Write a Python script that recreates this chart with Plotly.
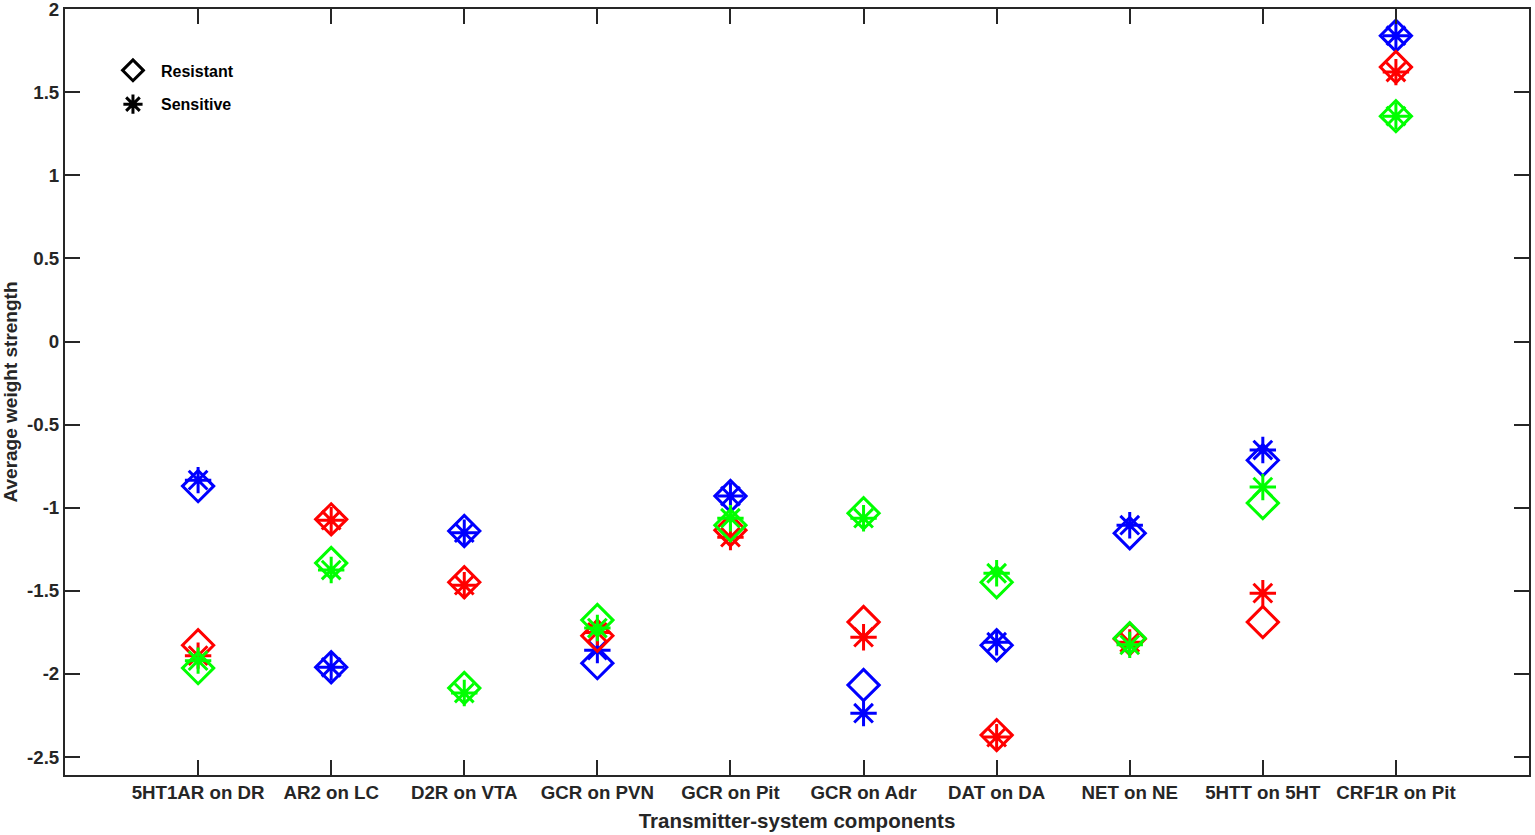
import plotly.graph_objects as go

# categories along the x axis
categories = ["5HT1AR on DR", "AR2 on LC", "D2R on VTA", "GCR on PVN", "GCR on Pit",
              "GCR on Adr", "DAT on DA", "NET on NE", "5HTT on 5HT", "CRF1R on Pit"]

# average weight strength, resistant (diamond) and sensitive (asterisk)
blue_res  = [-0.87, -1.96, -1.14, -1.935, -0.93, -2.067, -1.827, -1.153, -0.714, 1.84]
blue_sen  = [-0.834, -1.96, -1.15, -1.857, -0.93, -2.236, -1.809, -1.105, -0.653, 1.84]
red_res   = [-1.827, -1.07, -1.448, -1.77, -1.135, -1.688, -2.368, -1.79, -1.688, 1.651]
red_sen   = [-1.89, -1.075, -1.466, -1.75, -1.177, -1.779, -2.38, -1.81, -1.514, 1.621]
green_res = [-1.965, -1.333, -2.085, -1.676, -1.105, -1.033, -1.448, -1.785, -0.972, 1.356]
green_sen = [-1.92, -1.375, -2.115, -1.724, -1.063, -1.063, -1.394, -1.825, -0.876, 1.356]

y_ticks = [-2.5, -2, -1.5, -1, -0.5, 0, 0.5, 1, 1.5, 2]

FONT = "Liberation Sans, Arial, sans-serif"
AXIS = "#262626"

SERIES = [
    ("blue", "#0000ff", blue_res, blue_sen),
    ("red", "#ff0000", red_res, red_sen),
    ("green", "#00ff00", green_res, green_sen),
]

fig = go.Figure()

for name, color, res, sen in SERIES:
    fig.add_trace(go.Scatter(x=categories, y=res, mode="markers", name=f"{name} resistant",
                             showlegend=False,
                             marker=dict(symbol="diamond-open", size=24, color=color,
                                         line=dict(width=3, color=color))))
    fig.add_trace(go.Scatter(x=categories, y=sen, mode="markers", name=f"{name} sensitive",
                             showlegend=False,
                             marker=dict(symbol="asterisk-open", size=22, color=color,
                                         line=dict(width=3, color=color))))

# legend entries (black markers)
fig.add_trace(go.Scatter(x=[None], y=[None], mode="markers", name="<b>Resistant</b>",
                         legendgroup="res",
                         marker=dict(symbol="diamond-open", size=24, color="black",
                                     line=dict(width=3, color="black"))))
fig.add_trace(go.Scatter(x=[None], y=[None], mode="markers", name="<b>Sensitive</b>",
                         legendgroup="sen",
                         marker=dict(symbol="asterisk-open", size=22, color="black",
                                     line=dict(width=3, color="black"))))

fig.update_layout(
    width=1535, height=835,
    paper_bgcolor="white", plot_bgcolor="white",
    font=dict(family=FONT, color=AXIS, size=18),
    margin=dict(l=65, r=6, t=9, b=60, autoexpand=False),
    legend=dict(x=0.0273, y=0.942, xanchor="left", yanchor="top",
                bgcolor="rgba(0,0,0,0)", font=dict(size=16, color="black"),
                itemsizing="trace", itemwidth=46, tracegroupgap=10),
    xaxis=dict(
        type="category", categoryorder="array", categoryarray=categories,
        range=[-1, 10], showline=True, linecolor=AXIS, linewidth=2, mirror="ticks",
        ticks="inside", ticklen=15, tickwidth=2, tickcolor=AXIS, showgrid=False,
        automargin=False, ticklabeloverflow="allow",
        tickfont=dict(size=18.7, family=FONT, weight="bold"),
        title=dict(text="<b>Transmitter-system components</b>", font=dict(size=20.5), standoff=11),
    ),
    yaxis=dict(
        range=[-2.608, 2.0005], tickvals=y_ticks, ticktext=[f"{v:g}" for v in y_ticks],
        showline=True, linecolor=AXIS, linewidth=2, mirror="ticks",
        ticks="inside", ticklen=15, tickwidth=2, tickcolor=AXIS, showgrid=False,
        zeroline=False, automargin=False, ticklabeloverflow="allow",
        tickfont=dict(size=18.7, family=FONT, weight="bold"),
        title=dict(text="<b>Average weight strength</b>", font=dict(size=19), standoff=4),
    ),
)

fig.write_html("out.html", config={"displayModeBar": False},
               post_script="document.body.style.margin = '0';")
